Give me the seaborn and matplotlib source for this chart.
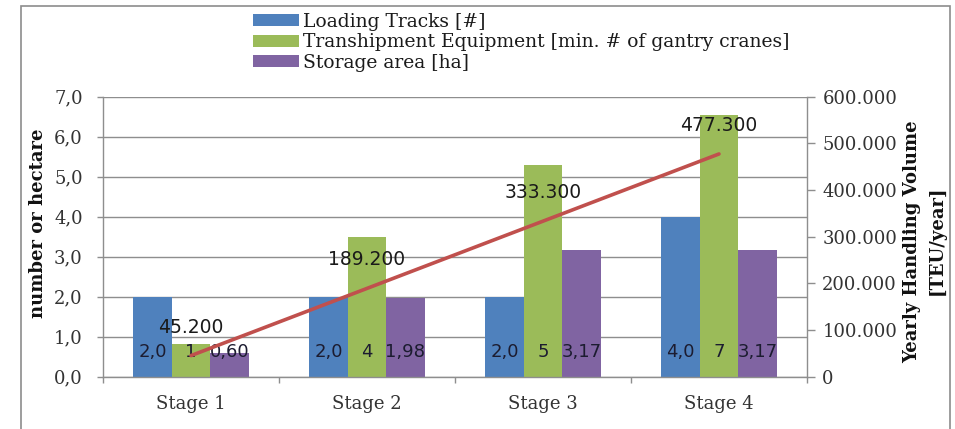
import matplotlib
matplotlib.use("Agg")
import matplotlib.pyplot as plt
from matplotlib.patches import Rectangle
from matplotlib.ticker import FixedLocator, FuncFormatter
import numpy as np
import pandas as pd
import seaborn as sns

# ---- data ----
stages = ["Stage 1", "Stage 2", "Stage 3", "Stage 4"]
loading_tracks = [2.0, 2.0, 2.0, 4.0]
gantry_cranes = [0.83, 3.5, 5.28, 6.55]
storage_area = [0.60, 1.98, 3.17, 3.17]
handling_volume = [45200, 189200, 333300, 477300]

series_names = ["Loading Tracks [#]",
                "Transhipment Equipment [min. # of gantry cranes]",
                "Storage area [ha]"]
series_values = [loading_tracks, gantry_cranes, storage_area]
series_formats = ["{:.1f}", "{:.0f}", "{:.2f}"]
colors = ["#4F81BD", "#9BBB59", "#8064A2"]
line_color = "#C0504D"
grid_color = "#8E8E8E"
tick_color = "#333333"
W, H = 955, 429

df = pd.DataFrame({
    "stage": np.repeat([stages], len(series_names), axis=0).ravel(),
    "series": np.repeat(series_names, len(stages)),
    "value": np.concatenate(series_values),
})

sns.set_theme(style="white")
plt.rcParams["font.family"] = ["DejaVu Serif", "DejaVu Sans"]

fig = plt.figure(figsize=(W / 100, H / 100), dpi=100)
ax = fig.add_axes([103 / W, 1 - 376.7 / H, 704 / W, 280 / H])

sns.barplot(data=df, x="stage", y="value", hue="series", palette=colors,
            width=0.655, saturation=1, ax=ax, legend=True, errorbar=None,
            linewidth=0, edgecolor="none")

ax.set_ylim(0, 7)
ax.set_xlim(-0.5, 3.5)
ax.set_yticks(np.arange(0, 8, 1))
ax.yaxis.set_major_formatter(FuncFormatter(lambda v, p: f"{v:.1f}".replace(".", ",")))
ax.yaxis.grid(True, color=grid_color, linewidth=1)
ax.set_axisbelow(True)
for side in ["left", "right", "bottom"]:
    ax.spines[side].set_color(grid_color)
    ax.spines[side].set_linewidth(1)
ax.spines["top"].set_visible(False)
ax.tick_params(axis="y", which="major", direction="out", length=4.5, width=1, color=grid_color,
               labelsize=13, labelcolor=tick_color, left=True, pad=10)
ax.tick_params(axis="x", which="major", length=0, labelsize=13, labelcolor=tick_color, pad=13)
ax.xaxis.set_minor_locator(FixedLocator([-0.5, 0.5, 1.5, 2.5, 3.5]))
ax.tick_params(axis="x", which="minor", direction="out", length=4.5, width=1,
               color=grid_color, bottom=True)
ax.set_xlabel("")
ax.set_ylabel("")

# value labels at the base of each bar
for container, vals, fmt in zip(ax.containers, series_values, series_formats):
    for patch, v in zip(container.patches, vals):
        cx = patch.get_x() + patch.get_width() / 2
        ax.text(cx, 0.62, fmt.format(v).replace(".", ","), ha="center", va="center",
                fontsize=13, color="#1c1c30", fontfamily="DejaVu Sans")

# legend above the plot
handles, labels = ax.get_legend_handles_labels()
ax.legend_.remove()
fig.legend(handles, labels, loc="upper left", bbox_to_anchor=(253 / W, 1 - 13 / H),
           frameon=False, fontsize=13.5, handlelength=2.45, handleheight=0.6,
           labelspacing=0.12, handletextpad=0.2, borderaxespad=0, borderpad=0,
           labelcolor="#1a1a1a")

# handling volume on the secondary axis
ax2 = ax.twinx()
sns.lineplot(x=np.arange(len(stages)), y=handling_volume, ax=ax2,
             color=line_color, linewidth=2.6, legend=False)
ax2.set_ylim(0, 600000)
ax2.set_yticks(np.arange(0, 600001, 100000))
ax2.yaxis.set_major_formatter(FuncFormatter(lambda v, p: f"{v:,.0f}".replace(",", ".")))
ax2.tick_params(axis="y", direction="out", length=5.5, width=1, color=grid_color,
                labelsize=13, labelcolor=tick_color, right=True, pad=5.5)
for side in ["left", "right", "bottom", "top"]:
    ax2.spines[side].set_visible(False)
ax2.set_ylabel("")
for i, v in enumerate(handling_volume):
    ax2.annotate(f"{v:,.0f}".replace(",", "."), (i, v), xytext=(0, 20.5),
                 textcoords="offset points", ha="center", va="center",
                 fontsize=13.5, color="#1a1a1a", fontfamily="DejaVu Sans")

# axis titles
fig.text(38 / W, 1 - 223 / H, "number or hectare", rotation=90, ha="center", va="center",
         fontsize=13, fontweight="bold", color="#111111")
fig.text(912 / W, 1 - 242 / H, "Yearly Handling Volume", rotation=90, ha="center",
         va="center", fontsize=13, fontweight="bold", color="#111111")
fig.text(937 / W, 1 - 240 / H, "[TEU/year]", rotation=90, ha="center", va="center",
         fontsize=13, fontweight="bold", color="#111111")

# outer chart frame
fig.patches.append(Rectangle((21 / W, -0.05), 929 / W, 1.05 - 5.7 / H,
                             transform=fig.transFigure, fill=False,
                             edgecolor="#8C8C8C", linewidth=1.2))

fig.savefig("out.png", dpi=100)
